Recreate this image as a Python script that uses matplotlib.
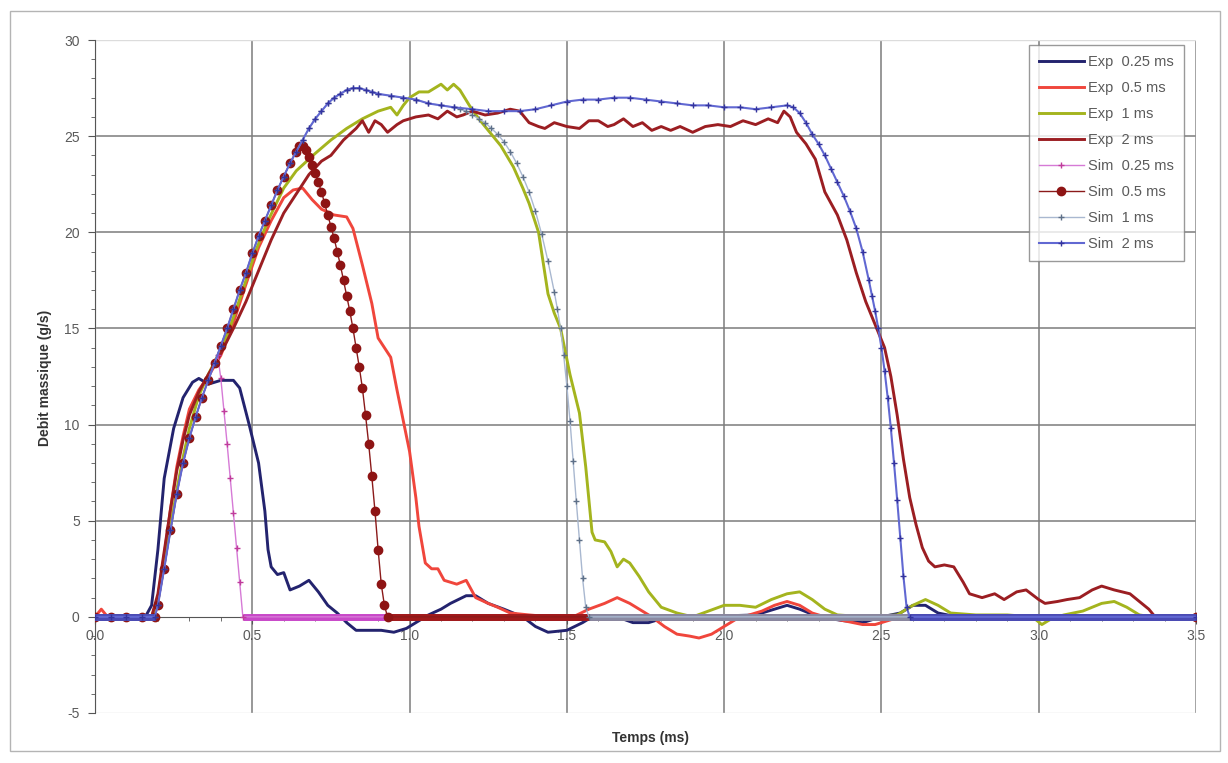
import matplotlib
matplotlib.use("Agg")
import matplotlib.pyplot as plt
from matplotlib.patches import Rectangle
import numpy as np

plt.rcParams["font.family"] = ["Liberation Sans", "DejaVu Sans"]
plt.rcParams["axes.unicode_minus"] = False

exp_025 = [(0.00, 0.0), (0.16, 0.0), (0.18, 0.6), (0.20, 3.5), (0.22, 7.2), (0.25, 9.8),
           (0.28, 11.4), (0.31, 12.2), (0.33, 12.4), (0.36, 12.1), (0.40, 12.3), (0.44, 12.3),
           (0.46, 11.9), (0.49, 10.0), (0.52, 8.0), (0.54, 5.5), (0.55, 3.5), (0.56, 2.6),
           (0.58, 2.2), (0.60, 2.3), (0.62, 1.4), (0.65, 1.6), (0.68, 1.9), (0.71, 1.3),
           (0.74, 0.6), (0.77, 0.2), (0.80, -0.3), (0.83, -0.7), (0.87, -0.7), (0.91, -0.7),
           (0.95, -0.8), (0.99, -0.6), (1.02, -0.3), (1.06, 0.1), (1.10, 0.4), (1.13, 0.7),
           (1.18, 1.1), (1.21, 1.1), (1.25, 0.7), (1.30, 0.4), (1.36, 0.0), (1.40, -0.5),
           (1.44, -0.8), (1.50, -0.7), (1.55, -0.3), (1.58, 0.0), (1.66, 0.0), (1.71, -0.3),
           (1.76, -0.3), (1.80, -0.1), (1.90, 0.0), (2.10, 0.1), (2.16, 0.4), (2.20, 0.6),
           (2.24, 0.4), (2.30, 0.0), (2.38, -0.2), (2.44, -0.3), (2.50, 0.0), (2.56, 0.2),
           (2.60, 0.6), (2.64, 0.6), (2.68, 0.2), (2.74, 0.0), (3.50, 0.0)]

exp_05 = [(0.00, 0.0), (0.02, 0.4), (0.04, 0.0), (0.18, 0.0), (0.20, 1.0), (0.22, 3.2),
          (0.24, 5.6), (0.26, 7.8), (0.28, 9.4), (0.30, 10.8), (0.33, 11.8), (0.36, 12.5),
          (0.40, 13.6), (0.44, 15.3), (0.48, 17.3), (0.52, 19.2), (0.56, 20.6), (0.60, 21.8),
          (0.63, 22.2), (0.66, 22.3), (0.69, 21.7), (0.72, 21.2), (0.76, 20.9), (0.80, 20.8),
          (0.82, 20.2), (0.85, 18.3), (0.88, 16.3), (0.90, 14.5), (0.94, 13.5), (0.96, 11.8),
          (0.98, 10.2), (1.00, 8.6), (1.02, 6.2), (1.03, 4.7), (1.05, 2.8), (1.07, 2.5),
          (1.09, 2.5), (1.11, 1.9), (1.13, 1.8), (1.15, 1.7), (1.18, 1.9), (1.21, 1.0),
          (1.25, 0.7), (1.28, 0.5), (1.32, 0.2), (1.38, 0.1), (1.45, 0.0), (1.52, 0.0),
          (1.57, 0.4), (1.62, 0.7), (1.66, 1.0), (1.70, 0.7), (1.73, 0.4), (1.77, 0.0),
          (1.81, -0.5), (1.85, -0.9), (1.89, -1.0), (1.92, -1.1), (1.96, -0.9), (2.00, -0.5),
          (2.04, -0.1), (2.08, 0.1), (2.12, 0.3), (2.16, 0.6), (2.20, 0.8), (2.24, 0.6),
          (2.28, 0.2), (2.32, 0.0), (2.38, -0.2), (2.44, -0.4), (2.48, -0.4), (2.52, -0.2),
          (2.56, 0.0), (3.50, 0.0)]

exp_1 = [(0.00, 0.0), (0.18, 0.0), (0.20, 0.8), (0.22, 2.8), (0.24, 4.7), (0.26, 6.6),
         (0.28, 8.3), (0.30, 9.8), (0.33, 11.5), (0.36, 12.6), (0.40, 13.9), (0.43, 15.1),
         (0.47, 17.0), (0.51, 19.0), (0.55, 20.6), (0.60, 22.3), (0.64, 23.2), (0.70, 24.1),
         (0.75, 24.8), (0.80, 25.4), (0.85, 25.9), (0.90, 26.3), (0.94, 26.5), (0.96, 26.1),
         (0.98, 26.6), (1.00, 27.0), (1.03, 27.3), (1.06, 27.3), (1.08, 27.5), (1.10, 27.7),
         (1.12, 27.4), (1.14, 27.7), (1.16, 27.4), (1.19, 26.6), (1.22, 25.9), (1.25, 25.3),
         (1.29, 24.5), (1.33, 23.4), (1.36, 22.3), (1.38, 21.5), (1.41, 20.0), (1.44, 16.8),
         (1.46, 15.8), (1.48, 15.0), (1.51, 12.6), (1.54, 10.6), (1.56, 7.8), (1.58, 4.4),
         (1.59, 4.0), (1.62, 3.9), (1.64, 3.4), (1.66, 2.6), (1.68, 3.0), (1.70, 2.8),
         (1.73, 2.1), (1.76, 1.3), (1.80, 0.5), (1.85, 0.2), (1.90, 0.0), (1.95, 0.3),
         (2.00, 0.6), (2.05, 0.6), (2.10, 0.5), (2.15, 0.9), (2.20, 1.2), (2.24, 1.3),
         (2.28, 0.9), (2.32, 0.4), (2.36, 0.1), (2.45, 0.0), (2.55, 0.1), (2.60, 0.6),
         (2.64, 0.9), (2.68, 0.6), (2.72, 0.2), (2.80, 0.1), (2.90, 0.1), (2.98, 0.0),
         (3.01, -0.4), (3.04, -0.1), (3.08, 0.1), (3.14, 0.3), (3.20, 0.7), (3.24, 0.8),
         (3.28, 0.5), (3.32, 0.1), (3.36, 0.0), (3.50, 0.0)]

exp_2 = [(0.00, 0.0), (0.18, 0.0), (0.20, 1.2), (0.22, 3.4), (0.24, 5.6), (0.26, 7.6),
         (0.28, 9.2), (0.30, 10.5), (0.33, 11.7), (0.36, 12.6), (0.40, 13.7), (0.44, 15.0),
         (0.48, 16.4), (0.52, 18.0), (0.56, 19.6), (0.60, 21.0), (0.64, 22.0), (0.68, 23.0),
         (0.72, 23.7), (0.75, 24.0), (0.79, 24.8), (0.83, 25.4), (0.85, 25.8), (0.87, 25.2),
         (0.89, 25.8), (0.91, 25.6), (0.93, 25.2), (0.96, 25.6), (0.98, 25.8), (1.02, 26.0),
         (1.06, 26.1), (1.09, 25.9), (1.12, 26.3), (1.15, 26.0), (1.17, 26.1), (1.20, 26.3),
         (1.24, 26.1), (1.28, 26.2), (1.32, 26.4), (1.35, 26.3), (1.38, 25.7), (1.41, 25.5),
         (1.43, 25.4), (1.46, 25.7), (1.50, 25.5), (1.54, 25.4), (1.57, 25.8), (1.60, 25.8),
         (1.63, 25.5), (1.65, 25.6), (1.68, 25.9), (1.71, 25.5), (1.74, 25.7), (1.77, 25.3),
         (1.80, 25.5), (1.83, 25.3), (1.86, 25.5), (1.90, 25.2), (1.94, 25.5), (1.98, 25.6),
         (2.02, 25.5), (2.06, 25.8), (2.10, 25.6), (2.14, 25.9), (2.17, 25.7), (2.19, 26.3),
         (2.21, 26.0), (2.23, 25.2), (2.26, 24.6), (2.29, 23.8), (2.32, 22.1), (2.36, 20.9),
         (2.39, 19.6), (2.42, 17.9), (2.45, 16.4), (2.48, 15.2), (2.51, 14.0), (2.53, 12.5),
         (2.55, 10.5), (2.57, 8.2), (2.59, 6.2), (2.61, 4.8), (2.63, 3.6), (2.65, 2.9),
         (2.67, 2.6), (2.70, 2.7), (2.73, 2.6), (2.76, 1.8), (2.78, 1.2), (2.82, 1.0),
         (2.86, 1.2), (2.89, 0.9), (2.93, 1.3), (2.96, 1.4), (3.00, 0.9), (3.02, 0.7),
         (3.06, 0.8), (3.09, 0.9), (3.13, 1.0), (3.17, 1.4), (3.20, 1.6), (3.24, 1.4),
         (3.29, 1.2), (3.32, 0.8), (3.35, 0.4), (3.37, 0.0), (3.50, 0.0)]

# ---- simulations ----
sim_start = [(0.00, 0.0), (0.05, 0.0), (0.10, 0.0), (0.15, 0.0), (0.19, 0.0)]
sim_rise = [(0.20, 0.6), (0.22, 2.5), (0.24, 4.5), (0.26, 6.4), (0.28, 8.0), (0.30, 9.3),
            (0.32, 10.4), (0.34, 11.4), (0.36, 12.3), (0.38, 13.2)]
sim_rise2 = [(0.40, 14.1), (0.42, 15.0), (0.44, 16.0), (0.46, 17.0), (0.48, 17.9),
             (0.50, 18.9), (0.52, 19.8), (0.54, 20.6), (0.56, 21.4), (0.58, 22.2),
             (0.60, 22.9), (0.62, 23.6), (0.64, 24.2)]
sim_top = [(0.66, 24.8), (0.68, 25.4), (0.70, 25.9), (0.72, 26.3), (0.74, 26.7),
           (0.76, 27.0), (0.78, 27.2), (0.80, 27.4), (0.82, 27.5), (0.84, 27.5),
           (0.86, 27.4), (0.88, 27.3), (0.90, 27.2), (0.94, 27.1), (0.98, 27.0),
           (1.02, 26.9), (1.06, 26.7), (1.10, 26.6), (1.14, 26.5)]

sim_025_end = [(0.39, 13.6), (0.40, 12.4), (0.41, 10.7), (0.42, 9.0), (0.43, 7.2),
               (0.44, 5.4), (0.45, 3.6), (0.46, 1.8), (0.47, 0.0), (3.50, 0.0)]
sim_05_end = [(0.65, 24.5), (0.66, 24.5), (0.67, 24.3), (0.68, 23.9), (0.69, 23.5),
              (0.70, 23.1), (0.71, 22.6), (0.72, 22.1), (0.73, 21.5), (0.74, 20.9),
              (0.75, 20.3), (0.76, 19.7), (0.77, 19.0), (0.78, 18.3), (0.79, 17.5),
              (0.80, 16.7), (0.81, 15.9), (0.82, 15.0), (0.83, 14.0), (0.84, 13.0),
              (0.85, 11.9), (0.86, 10.5), (0.87, 9.0), (0.88, 7.3), (0.89, 5.5),
              (0.90, 3.5), (0.91, 1.7), (0.92, 0.6), (0.93, 0.0), (3.50, 0.0)]
sim_1_end = [(1.16, 26.4), (1.18, 26.3), (1.20, 26.1), (1.22, 25.9), (1.24, 25.7),
             (1.26, 25.4), (1.28, 25.1), (1.30, 24.7), (1.32, 24.2), (1.34, 23.6),
             (1.36, 22.9), (1.38, 22.1), (1.40, 21.1), (1.42, 19.9), (1.44, 18.5),
             (1.46, 16.9), (1.47, 16.0), (1.48, 15.0), (1.49, 13.6), (1.50, 12.0),
             (1.51, 10.2), (1.52, 8.1), (1.53, 6.0), (1.54, 4.0), (1.55, 2.0),
             (1.56, 0.5), (1.57, 0.0), (3.50, 0.0)]
sim_2_end = [(1.20, 26.4), (1.25, 26.3), (1.30, 26.3), (1.35, 26.3), (1.40, 26.4),
             (1.45, 26.6), (1.50, 26.8), (1.55, 26.9), (1.60, 26.9), (1.65, 27.0),
             (1.70, 27.0), (1.75, 26.9), (1.80, 26.8), (1.85, 26.7), (1.90, 26.6),
             (1.95, 26.6), (2.00, 26.5), (2.05, 26.5), (2.10, 26.4), (2.15, 26.5),
             (2.20, 26.6), (2.22, 26.5), (2.24, 26.2), (2.26, 25.7), (2.28, 25.1),
             (2.30, 24.6), (2.32, 24.0), (2.34, 23.3), (2.36, 22.6), (2.38, 21.9),
             (2.40, 21.1), (2.42, 20.2), (2.44, 19.0), (2.46, 17.5), (2.47, 16.7),
             (2.48, 15.9), (2.49, 15.0), (2.50, 14.0), (2.51, 12.8), (2.52, 11.4),
             (2.53, 9.8), (2.54, 8.0), (2.55, 6.1), (2.56, 4.1), (2.57, 2.1),
             (2.58, 0.5), (2.59, 0.0), (3.50, 0.0)]

sim_025 = sim_start + sim_rise + sim_025_end
sim_05 = sim_start + sim_rise + sim_rise2 + sim_05_end
sim_1 = sim_start + sim_rise + sim_rise2 + sim_top + sim_1_end
sim_2 = sim_start + sim_rise + sim_rise2 + sim_top + sim_2_end

exp_series = [("Exp  0.25 ms", exp_025, "#23236e"),
              ("Exp  0.5 ms", exp_05, "#f0463c"),
              ("Exp  1 ms", exp_1, "#a4b41e"),
              ("Exp  2 ms", exp_2, "#9b1e22")]
# name, data, line colour, line width, marker, size, marker colour, zero-band colour
sim_series = [("Sim  0.25 ms", sim_025, "#d67ad6", 1.0, "+", 4, "#c03c9c", "#c848c8"),
              ("Sim  0.5 ms", sim_05, "#8b1a1a", 1.0, "o", 6, "#8e1414", "#a01a1a"),
              ("Sim  1 ms", sim_1, "#a9b8d0", 1.0, "+", 4, "#5e7088", "#8a8aa2"),
              ("Sim  2 ms", sim_2, "#6168d2", 1.5, "+", 4, "#34349e", "#4a4ab4")]

fig = plt.figure(figsize=(12.28, 7.63), dpi=100)
fig.patches.append(Rectangle((10 / 1228, 12 / 763), 1210 / 1228, 740 / 763,
                             transform=fig.transFigure, fill=False, ec="#b4b4b4", lw=1))
ax = fig.add_axes([95 / 1228, 50 / 763, 1101 / 1228, 673 / 763])

ax.set_xlim(0, 3.5)
ax.set_ylim(-5, 30)

# gridlines (Excel-like)
for v in [5, 10, 15, 20, 25]:
    ax.axhline(v, color="#7c7c7c", lw=1.1, zorder=0)
for v in [0.5, 1.0, 1.5, 2.0, 2.5, 3.0, 3.5]:
    ax.axvline(v, color="#7c7c7c", lw=1.1, zorder=0)

handles = []
for name, data, col in exp_series:
    t, y = zip(*data)
    h, = ax.plot(t, y, color=col, lw=2.1, label=name, zorder=2)
    handles.append(h)

for name, data, lcol, lw, mk, ms, mcol, bandcol in sim_series:
    t, y = map(np.array, zip(*data))
    # dense simulation markers along zero show up as a thick band
    zero = (y[:-1] == 0) & (y[1:] == 0)
    for i in np.where(zero)[0]:
        ax.plot([t[i], t[i + 1]], [0, 0], color=bandcol, lw=5,
                solid_capstyle="butt", zorder=3)
    h, = ax.plot(t, y, color=lcol, lw=lw, marker=mk, ms=ms, mfc=mcol, mec=mcol,
                 mew=1.0, label=name, zorder=3)
    handles.append(h)

# axes in Excel style: y axis at x=0, x axis crossing at y=0
for s in ["top", "right"]:
    ax.spines[s].set_visible(False)
ax.spines["bottom"].set_position(("data", 0))
ax.spines["bottom"].set_color("#555555")
ax.spines["left"].set_color("#555555")
ax.add_patch(Rectangle((0, 0), 1, 1, transform=ax.transAxes, fill=False,
                       ec="#dcdcdc", lw=1, zorder=0))

ax.set_xticks(np.arange(0, 3.51, 0.5))
ax.set_xticklabels([f"{v:.1f}" for v in np.arange(0, 3.51, 0.5)])
ax.set_xticks(np.arange(0, 3.51, 0.1), minor=True)
ax.set_yticks(range(-5, 31, 5))
ax.set_yticks(range(-5, 31, 1), minor=True)
ax.tick_params(axis="both", which="major", labelsize=10, labelcolor="#5a5a5a",
               color="#555555", length=5, direction="out")
ax.tick_params(axis="both", which="minor", color="#555555", length=3, direction="out")
ax.tick_params(axis="x", pad=4)
ax.tick_params(axis="y", pad=6)

fig.text(45 / 1228, 0.505, "Debit massique (g/s)", rotation=90, ha="center", va="center",
         fontsize=10, fontweight="bold", color="#333333")
fig.text(650 / 1228, 1 - 738 / 763, "Temps (ms)", ha="center", va="center",
         fontsize=10, fontweight="bold", color="#333333")

leg = ax.legend(handles=handles, loc="upper right", bbox_to_anchor=(0.9895, 0.993),
                prop={"size": 10.5}, frameon=True, fancybox=False, edgecolor="#808080",
                handlelength=3.1, labelspacing=0.82, borderpad=0.7, handletextpad=0.3,
                borderaxespad=0.0)
leg.get_frame().set_linewidth(1.0)
for txt in leg.get_texts():
    txt.set_color("#5a5a5a")

fig.savefig("out.png", dpi=100)
